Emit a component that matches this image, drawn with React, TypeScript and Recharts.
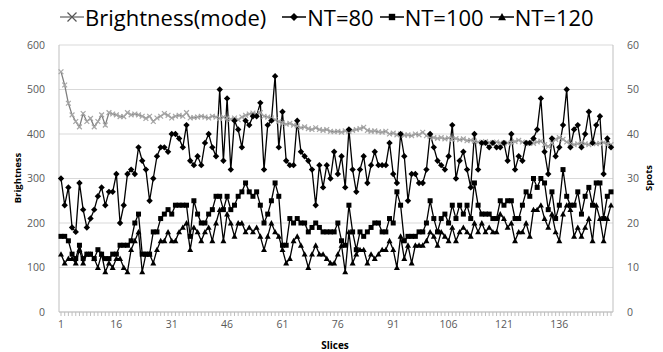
import React from "react";
import { LineChart, Line, XAxis, YAxis, CartesianGrid, Legend, Label } from "recharts";

// slice numbers 1..150
const slices = Array.from({ length: 150 }, (_, i) => i + 1);
const xTickLabels = [1, 16, 31, 46, 61, 76, 91, 106, 121, 136];
const leftTicks = [0, 100, 200, 300, 400, 500, 600];
const rightTicks = [0, 10, 20, 30, 40, 50, 60];

// Brightness(mode), left axis
const brightness = [
  540, 510, 469, 443, 428, 416, 446, 428, 435, 416,
  428, 443, 420, 448, 445, 443, 439, 439, 448, 443,
  445, 443, 440, 435, 440, 428, 436, 440, 446, 442,
  436, 440, 442, 440, 448, 436, 437, 438,
  440, 438, 436, 440, 438, 435, 438, 436, 433, 436, 432, 438,
  442, 445, 447, 444, 448, 440, 438, 436, 432, 428,
  425, 422, 424, 420, 418, 414, 416, 412, 410, 414, 410, 408, 410, 406, 405,
  406, 404, 407, 405, 408, 410, 412, 415, 408, 406, 407, 405, 404, 406, 400,
  402, 398, 400, 397, 398, 396, 400, 398, 404, 396,
  394, 392, 390, 392, 389, 391, 388, 390, 387, 389, 385, 386, 384, 382, 380,
  383, 381, 379, 382, 380, 378, 380, 381, 383, 386,
  382, 378, 380, 379, 382, 384, 376, 372, 380, 388, 392, 388, 382, 378, 376,
  378, 380, 378, 376, 380, 378, 379, 381, 377, 376,
];

// spots, right axis
const nt80 = [
  30, 24, 28, 19, 18, 29, 23, 19, 21, 23,
  26, 28, 24, 27, 27, 31, 20, 24, 31, 32,
  31, 37, 34, 32, 25, 30, 35, 37, 37, 36,
  40, 40, 39, 37, 42, 34, 33, 35, 33, 38,
  40, 37, 35, 50, 34, 48, 32, 43, 41, 37,
  43, 42, 44, 44, 47, 32, 42, 43, 53, 37,
  45, 34, 33, 33, 43, 36, 35, 34, 32, 24,
  33, 28, 33, 30, 36, 31, 35, 28, 41, 32,
  27, 32, 35, 29, 33, 36, 33, 33, 33, 38,
  31, 29, 40, 35, 25, 31, 31, 29, 29, 32,
  40, 37, 34, 33, 32, 35, 42, 30, 34, 36,
  32, 28, 40, 32, 38, 38, 37, 38, 37, 37,
  38, 34, 40, 32, 35, 34, 38, 38, 39, 41,
  48, 36, 31, 39, 35, 37, 42, 50, 37, 41,
  42, 37, 40, 45, 38, 42, 44, 31, 39, 37,
];

const nt100 = [
  17, 17, 16, 13, 12, 15, 12, 13, 13, 12,
  14, 13, 12, 12, 13, 13, 15, 15, 15, 16,
  20, 22, 13, 13, 13, 18, 18, 21, 22, 23,
  22, 24, 24, 24, 24, 17, 25, 22, 20, 20,
  22, 23, 26, 26, 23, 26, 23, 24, 26, 27,
  29, 27, 26, 27, 24, 20, 22, 25, 29, 26,
  15, 15, 21, 20, 21, 20, 20, 18, 19, 20,
  19, 18, 18, 18, 18, 20, 16, 15, 24, 18,
  14, 18, 17, 18, 19, 20, 20, 18, 18, 21,
  20, 27, 24, 16, 17, 17, 17, 18, 18, 20,
  25, 21, 18, 21, 22, 20, 24, 21, 24, 22,
  24, 21, 29, 24, 22, 22, 22, 21, 21, 25,
  24, 25, 25, 21, 21, 24, 27, 26, 30, 28,
  30, 29, 23, 27, 21, 24, 32, 26, 24, 24,
  27, 22, 26, 28, 24, 29, 29, 21, 26, 27,
];

const nt120 = [
  13, 11, 12, 12, 11, 14, 11, 13, 13, 12,
  10, 13, 9, 11, 10, 12, 12, 10, 9, 14,
  16, 18, 9, 13, 13, 11, 14, 16, 16, 18,
  16, 16, 18, 19, 20, 14, 19, 18, 16, 18,
  19, 16, 20, 23, 16, 22, 20, 17, 20, 20,
  18, 19, 18, 19, 17, 14, 17, 20, 18, 17,
  14, 11, 12, 16, 17, 15, 13, 10, 13, 15,
  13, 13, 12, 11, 11, 13, 15, 9, 18, 11,
  13, 14, 14, 11, 13, 12, 13, 14, 14, 16,
  14, 10, 17, 12, 15, 11, 15, 15, 15, 16,
  18, 17, 15, 18, 17, 16, 19, 16, 18, 19,
  18, 17, 20, 18, 20, 18, 19, 18, 18, 22,
  21, 19, 20, 16, 18, 18, 20, 17, 23, 23,
  24, 21, 19, 22, 18, 16, 22, 24, 23, 17,
  19, 17, 19, 21, 16, 24, 21, 16, 21, 24,
];

const data = slices.map((s, i) => ({
  slice: s,
  brightness: brightness[i],
  nt80: nt80[i],
  nt100: nt100[i],
  nt120: nt120[i],
}));

const FONT = "'Open Sans', sans-serif";
const AXIS_GREY = "#bfbfbf";
const TEXT_GREY = "#595959";

const Diamond = ({ cx, cy, r = 3.6 }: any) => (
  <path d={`M${cx},${cy - r}L${cx + r},${cy}L${cx},${cy + r}L${cx - r},${cy}Z`} fill="#000" />
);
const Square = ({ cx, cy, r = 2.8 }: any) => (
  <rect x={cx - r} y={cy - r} width={r * 2} height={r * 2} fill="#000" />
);
const Triangle = ({ cx, cy, r = 3.6 }: any) => (
  <path d={`M${cx},${cy - r}L${cx + r},${cy + r * 0.8}L${cx - r},${cy + r * 0.8}Z`} fill="#000" />
);
const Cross = ({ cx, cy, r = 3, color = "#a6a6a6" }: any) => (
  <path d={`M${cx - r},${cy - r}L${cx + r},${cy + r}M${cx + r},${cy - r}L${cx - r},${cy + r}`} stroke={color} strokeWidth={1.2} fill="none" />
);

const legendItems = [
  { name: "Brightness(mode)", shape: "x", gap: 16 },
  { name: "NT=80", shape: "diamond", gap: 6 },
  { name: "NT=100", shape: "square", gap: 6 },
  { name: "NT=120", shape: "triangle", gap: 0 },
];

function LegendMarker({ shape }: { shape: string }) {
  const stroke = shape === "x" ? "#7f7f7f" : "#000";
  return (
    <svg width={24} height={16} style={{ display: "block" }}>
      <line x1={0} y1={8} x2={24} y2={8} stroke={stroke} strokeWidth={1.5} />
      {shape === "x" && <Cross cx={12} cy={8} r={4.5} color="#555" />}
      {shape === "diamond" && <Diamond cx={12} cy={8} r={4} />}
      {shape === "square" && <Square cx={12} cy={8} r={3.2} />}
      {shape === "triangle" && <Triangle cx={12} cy={8} r={4} />}
    </svg>
  );
}

function LegendContent() {
  return (
    <div style={{ display: "flex", alignItems: "center", height: 30, paddingLeft: 60, fontFamily: FONT, fontSize: 22, color: "#000" }}>
      {legendItems.map((it) => (
        <div key={it.name} style={{ display: "flex", alignItems: "center", marginRight: it.gap }}>
          <LegendMarker shape={it.shape} />
          <span style={{ marginLeft: 1 }}>{it.name}</span>
        </div>
      ))}
    </div>
  );
}

const XTick = ({ x, y, payload }: any) => {
  if (!xTickLabels.includes(payload.value)) return <g />;
  return (
    <text x={x} y={y + 10} textAnchor="middle" fontFamily={FONT} fontSize={10.5} fill={TEXT_GREY}>
      {payload.value}
    </text>
  );
};

export default function App() {
  return (
    <div style={{ position: "absolute", left: 0, top: 0, background: "#fff" }}>
      <LineChart width={663} height={352} data={data} margin={{ top: 15, right: 0, bottom: 0, left: 0 }}>
        <CartesianGrid yAxisId="left" vertical={false} stroke="#d9d9d9" />
        <XAxis
          dataKey="slice"
          interval={0}
          tick={<XTick />}
          tickSize={4}
          tickLine={{ stroke: AXIS_GREY }}
          axisLine={{ stroke: AXIS_GREY }}
          padding={{ left: 2, right: 2 }}
          height={40}
        >
          <Label
            content={() => (
              <text x={335} y={349} textAnchor="middle" fontFamily={FONT} fontSize={10} fontWeight="bold" fill="#000">
                Slices
              </text>
            )}
          />
        </XAxis>
        <YAxis
          yAxisId="left"
          domain={[0, 600]}
          ticks={leftTicks}
          width={59}
          tickLine={false}
          axisLine={{ stroke: AXIS_GREY }}
          tick={{ fontFamily: FONT, fontSize: 10.5, fill: TEXT_GREY }}
          tickMargin={8}
        >
          <Label
            content={() => (
              <text x={0} y={0} transform="translate(21,178) rotate(-90)" textAnchor="middle" fontFamily={FONT} fontSize={9.5} fontWeight="bold" fill="#000">
                Brightness
              </text>
            )}
          />
        </YAxis>
        <YAxis
          yAxisId="right"
          orientation="right"
          domain={[0, 60]}
          ticks={rightTicks}
          width={50}
          tickLine={false}
          axisLine={{ stroke: AXIS_GREY }}
          tick={{ fontFamily: FONT, fontSize: 10.5, fill: TEXT_GREY }}
          tickMargin={8}
        >
          <Label
            content={() => (
              <text x={0} y={0} transform="translate(652,178) rotate(-90)" textAnchor="middle" fontFamily={FONT} fontSize={9.5} fontWeight="bold" fill="#000">
                Spots
              </text>
            )}
          />
        </YAxis>
        <Legend verticalAlign="top" content={<LegendContent />} wrapperStyle={{ top: 2, left: 0, width: 663 }} />
        <Line
          yAxisId="left"
          dataKey="brightness"
          name="Brightness(mode)"
          stroke="#7f7f7f"
          strokeWidth={1.3}
          isAnimationActive={false}
          dot={(p: any) => <Cross key={`b${p.index}`} cx={p.cx} cy={p.cy} r={2.4} />}
        />
        <Line
          yAxisId="right"
          dataKey="nt80"
          name="NT=80"
          stroke="#000"
          strokeWidth={1.3}
          isAnimationActive={false}
          dot={(p: any) => <Diamond key={`d${p.index}`} cx={p.cx} cy={p.cy} r={3.2} />}
        />
        <Line
          yAxisId="right"
          dataKey="nt100"
          name="NT=100"
          stroke="#000"
          strokeWidth={1.3}
          isAnimationActive={false}
          dot={(p: any) => <Square key={`s${p.index}`} cx={p.cx} cy={p.cy} r={2.5} />}
        />
        <Line
          yAxisId="right"
          dataKey="nt120"
          name="NT=120"
          stroke="#000"
          strokeWidth={1.3}
          isAnimationActive={false}
          dot={(p: any) => <Triangle key={`t${p.index}`} cx={p.cx} cy={p.cy} r={3} />}
        />
      </LineChart>
    </div>
  );
}
